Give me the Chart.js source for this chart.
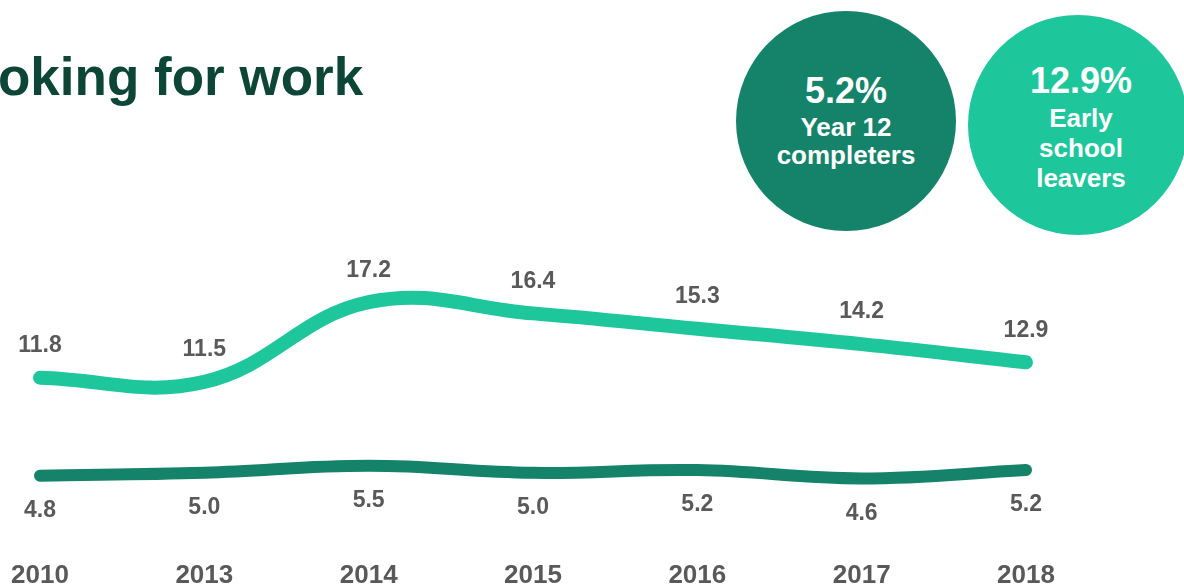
<!DOCTYPE html>
<html>
<head>
<meta charset="utf-8">
<script src="https://cdn.jsdelivr.net/npm/chart.js@4.4.1/dist/chart.umd.min.js"></script>
<style>
  html, body { margin: 0; padding: 0; background: #fff; }
  body { width: 1184px; height: 586px; position: relative; overflow: hidden;
         font-family: "Liberation Sans", Arial, sans-serif; }
  #title { position: absolute; left: -2px; top: 50px; font-size: 53px; line-height: 1;
           font-weight: bold; color: #0d4536; white-space: nowrap; }
  .circle { position: absolute; width: 220px; height: 220px; border-radius: 50%; }
  .txt { position: absolute; width: 300px; text-align: center; line-height: 1;
         color: #fff; font-weight: bold; white-space: nowrap; }
  .big { font-size: 36px; }
  .small { font-size: 26px; }
  #wrap { position: absolute; left: 0; top: 0; width: 1184px; height: 586px; }
</style>
</head>
<body>
<div id="title">oking for work</div>

<div class="circle" style="left:736px; top:11px; background:#14836a;"></div>
<div class="circle" style="left:968px; top:15px; background:#1ec69c;"></div>

<div class="txt big" id="v12" style="left:696px; top:73px;"></div>
<div class="txt small" style="left:696px; top:114px;">Year 12</div>
<div class="txt small" style="left:696px; top:142px;">completers</div>

<div class="txt big" id="vEarly" style="left:931px; top:63px;"></div>
<div class="txt small" style="left:931px; top:105px;">Early</div>
<div class="txt small" style="left:931px; top:135px;">school</div>
<div class="txt small" style="left:931px; top:165px;">leavers</div>

<div id="wrap"><canvas id="chart"></canvas></div>

<script>
// data
const years = ['2010', '2013', '2014', '2015', '2016', '2017', '2018'];
const earlyLeavers = [11.8, 11.5, 17.2, 16.4, 15.3, 14.2, 12.9];
const year12 = [4.8, 5.0, 5.5, 5.0, 5.2, 4.6, 5.2];

const FONT = '"Liberation Sans", Arial, sans-serif';
const LABEL_GREY = '#595959';

document.getElementById('v12').textContent = year12[year12.length - 1].toFixed(1) + '%';
document.getElementById('vEarly').textContent = earlyLeavers[earlyLeavers.length - 1].toFixed(1) + '%';

// value labels above / below each point
const valueLabels = {
  id: 'valueLabels',
  afterDatasetsDraw(chart) {
    const ctx = chart.ctx;
    ctx.save();
    ctx.font = 'bold 23px ' + FONT;
    ctx.fillStyle = LABEL_GREY;
    ctx.textAlign = 'center';
    ctx.textBaseline = 'middle';
    chart.data.datasets.forEach((ds, i) => {
      const meta = chart.getDatasetMeta(i);
      meta.data.forEach((pt, j) => {
        ctx.fillText(ds.data[j].toFixed(1), pt.x, pt.y + ds.labelOffset);
      });
    });
    ctx.restore();
  }
};

new Chart(document.getElementById('chart'), {
  type: 'line',
  data: {
    labels: years,
    datasets: [
      {
        label: 'Early school leavers',
        data: earlyLeavers,
        borderColor: '#1ec69c',
        borderWidth: 14,
        labelOffset: -32
      },
      {
        label: 'Year 12 completers',
        data: year12,
        borderColor: '#14836a',
        borderWidth: 12,
        labelOffset: 35
      }
    ]
  },
  options: {
    responsive: true,
    maintainAspectRatio: false,
    animation: false,
    layout: { padding: { left: 40, right: 158, top: 263, bottom: -22 } },
    elements: {
      line: { tension: 0.4, borderCapStyle: 'round', borderJoinStyle: 'round', fill: false },
      point: { radius: 0, hoverRadius: 0 }
    },
    datasets: { line: { clip: false } },
    plugins: { legend: { display: false }, tooltip: { enabled: false } },
    scales: {
      x: {
        grid: { display: false, drawTicks: false },
        border: { display: false },
        afterFit(scale) {
          // let the layout padding alone set the plot edges
          scale.paddingLeft = 0;
          scale.paddingRight = 0;
        },
        ticks: {
          color: LABEL_GREY,
          padding: 17,
          maxRotation: 0,
          font: { family: FONT, size: 26, weight: 'bold' }
        }
      },
      y: { display: false, min: 0, max: 20 }
    }
  },
  plugins: [valueLabels]
});
</script>
</body>
</html>
